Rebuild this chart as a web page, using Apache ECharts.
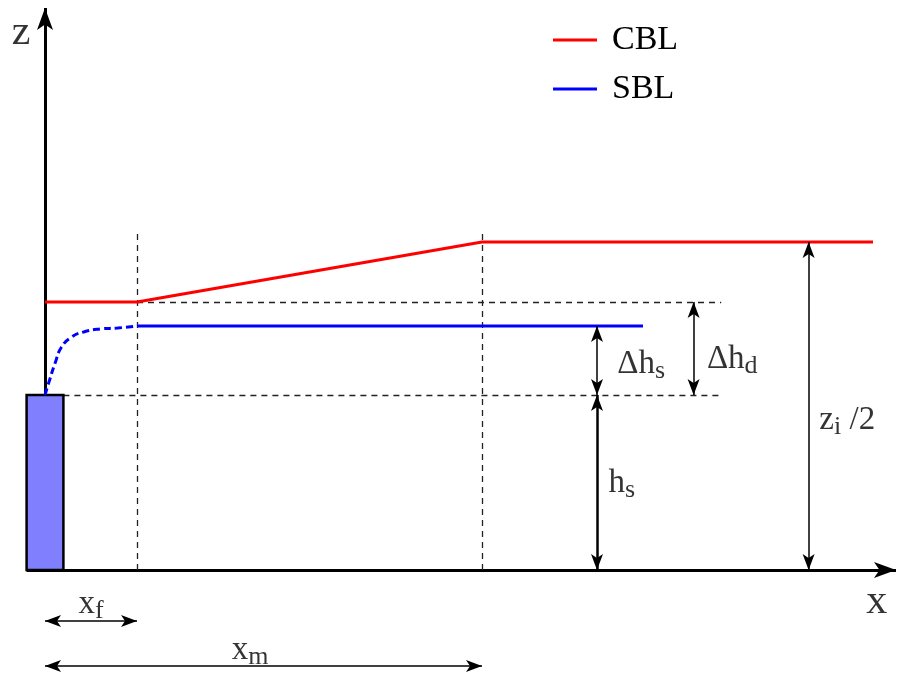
<!DOCTYPE html>
<html lang="en">
<head>
<meta charset="UTF-8">
<title>CBL / SBL</title>
<style>
  html, body { margin: 0; padding: 0; background: #fff; }
  #main { width: 904px; height: 673px; }
</style>
<script src="https://cdn.jsdelivr.net/npm/echarts@6/dist/echarts.min.js"></script>
</head>
<body>
<div id="main"></div>
<script>
// x in units of x_f, z in units where h_s = 1.75
const cblLine = [[0, 2.68], [1, 2.68], [4.75, 3.28], [9.0, 3.28]];
const sblLine = [[1, 2.44], [6.5, 2.44]];
const sblNear = [[0, 1.75], [0.05, 1.9], [0.11, 2.07], [0.18, 2.23], [0.29, 2.33], [0.42, 2.38], [0.6, 2.41], [0.79, 2.42], [1, 2.44]];
const stack = [[-0.2, 0], [0.2, 1.75]];
const axesLines = [[[0, 0], [0, 5.62]], [[-0.2, 0], [9.25, 0]]];
const guides = [
  [[1, 0], [1, 3.38]],
  [[4.75, 0], [4.75, 3.38]],
  [[1, 2.68], [7.35, 2.68]],
  [[0.2, 1.75], [7.35, 1.75]]
];
// dimension arrows: from, to, line width
const dims = [
  [[6.0, 2.44], [6.0, 1.75], 1.5],
  [[6.0, 1.75], [6.0, 0], 2.5],
  [[7.05, 2.68], [7.05, 1.75], 1.5],
  [[8.3, 3.28], [8.3, 0], 1.5],
  [[0, -0.51], [1, -0.51], 1.5],
  [[0, -0.96], [4.75, -0.96], 1.5]
];
const labels = [
  [-0.26, 5.37, '{big|z}'],
  [9.04, -0.32, '{big|x}'],
  [6.48, 2.06, '{m|Δh}{s|s}'],
  [7.47, 2.11, '{m|Δh}{d|d}'],
  [6.27, 0.87, '{m|h}{s|s}'],
  [8.72, 1.50, '{m|z}{d|i}{m| /2}'],
  [0.5, -0.34, '{m|x}{d|f}'],
  [2.23, -0.80, '{m|x}{s|m}']
];

const serif = 'Liberation Serif';
const chart = echarts.init(document.getElementById('main'));

const pair = p => [{coord: p[0]}, {coord: p[1]}];

chart.setOption({
  animation: false,
  grid: {left: 0, right: 0, top: 0, bottom: 0},
  xAxis: {type: 'value', min: -45 / 92, max: 859 / 92, show: false},
  yAxis: {type: 'value', min: -1.03, max: 5.70, show: false},
  legend: {
    data: ['CBL', 'SBL'],
    orient: 'vertical',
    left: 553,
    top: 23,
    padding: 0,
    icon: 'rect',
    itemWidth: 44,
    itemHeight: 3,
    itemGap: 15,
    textStyle: {fontFamily: serif, fontSize: 34, color: '#000', padding: [0, 0, 0, 10]}
  },
  series: [
    {
      type: 'line', name: 'axes', data: [], z: 1, silent: true,
      markLine: {
        silent: true, z: 1, symbol: ['none', 'arrow'], symbolSize: [12, 22],
        label: {show: false},
        lineStyle: {color: '#000', width: 3, type: 'solid'},
        data: axesLines.map(pair)
      }
    },
    {
      type: 'line', name: 'stack', data: [], z: 3, silent: true,
      markArea: {
        silent: true, z: 3,
        itemStyle: {color: '#8080ff', borderColor: '#000', borderWidth: 2.5},
        data: [[{coord: stack[0]}, {coord: stack[1]}]]
      }
    },
    {
      type: 'line', name: 'guides', data: [], z: 2, silent: true,
      markLine: {
        silent: true, z: 2, symbol: ['none', 'none'],
        label: {show: false},
        lineStyle: {color: '#222', width: 1.3, type: [6, 5]},
        data: guides.map(pair)
      }
    },
    {
      type: 'line', name: 'CBL', data: cblLine, z: 4,
      symbol: 'none', color: '#ff0000',
      lineStyle: {color: '#ff0000', width: 3}
    },
    {
      type: 'line', name: 'SBL', data: sblLine, z: 4,
      symbol: 'none', color: '#0000ff',
      lineStyle: {color: '#0000ff', width: 3}
    },
    {
      type: 'line', name: 'SBL near', data: sblNear, z: 4, smooth: true,
      symbol: 'none',
      lineStyle: {color: '#0000ff', width: 3, type: [7, 4]}
    },
    {
      type: 'line', name: 'dims', data: [], z: 5, silent: true,
      markLine: {
        silent: true, z: 5, symbol: ['arrow', 'arrow'], symbolSize: [9, 16],
        label: {show: false},
        data: dims.map(d => [
          {coord: d[0], lineStyle: {color: '#000', width: d[2], type: 'solid'}},
          {coord: d[1]}
        ])
      }
    },
    {
      type: 'scatter', name: 'labels', z: 6, silent: true,
      symbolSize: 0,
      data: labels.map(l => ({value: [l[0], l[1]], label: {formatter: l[2]}})),
      label: {
        show: true, position: 'inside', color: '#000',
        rich: {
          big: {fontFamily: serif, fontSize: 42, color: '#000'},
          m: {fontFamily: serif, fontSize: 33, lineHeight: 40, color: '#000'},
          s: {fontFamily: serif, fontSize: 26, lineHeight: 25, verticalAlign: 'bottom', color: '#000'},
          d: {fontFamily: serif, fontSize: 26, lineHeight: 15, verticalAlign: 'bottom', color: '#000'}
        }
      }
    }
  ]
});
</script>
</body>
</html>
